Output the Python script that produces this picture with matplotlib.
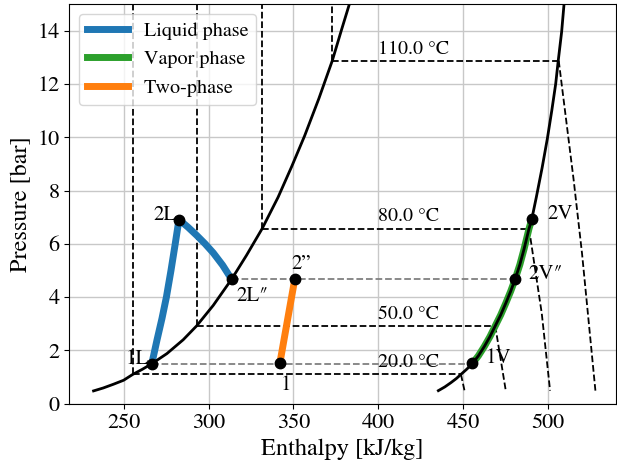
import matplotlib
matplotlib.use("Agg")
import matplotlib.pyplot as plt

plt.rcParams['font.family'] = ['STIXGeneral', 'DejaVu Serif']
plt.rcParams['mathtext.fontset'] = 'stix'

# saturation curves (h [kJ/kg], P [bar])
liq_sat_h = [232.3, 238.0, 244.0, 250.0, 255.4, 261.0, 266.6, 275.5, 285.1, 293.0, 302.8,
             308.3, 313.6, 322.4, 331.6, 341.0, 349.0, 356.6, 365.0, 372.9, 378.2, 383.0]
liq_sat_p = [0.48, 0.59, 0.73, 0.88, 1.10, 1.29, 1.50, 1.88, 2.40, 2.92, 3.69,
             4.19, 4.67, 5.57, 6.57, 7.75, 8.90, 10.05, 11.45, 12.87, 14.0, 15.0]
vap_sat_h = [435.4, 439.2, 442.8, 445.9, 448.7, 452.2, 455.5, 459.0, 462.4, 465.8, 468.9,
             472.1, 475.1, 478.0, 480.6, 483.4, 485.9, 488.8, 490.4, 493.1, 496.5, 499.6,
             502.2, 504.5, 506.0, 508.0, 509.4]
vap_sat_p = [0.49, 0.63, 0.79, 0.94, 1.10, 1.30, 1.51, 1.80, 2.14, 2.52, 2.92,
             3.33, 3.77, 4.22, 4.67, 5.22, 5.81, 6.57, 6.92, 7.75, 8.85, 9.95,
             11.0, 12.0, 12.87, 13.95, 14.98]

# isotherms
iso_T = [20.0, 50.0, 80.0, 110.0]
iso_p = [1.10, 2.92, 6.57, 12.87]
iso_h_liq = [255.4, 293.0, 331.6, 372.9]
iso_h_vap = [448.7, 468.9, 488.8, 506.0]
iso_sh_h = [[448.7, 450.8], [468.9, 475.1], [488.8, 496.3, 501.2], [506.3, 515.1, 520.0, 527.9]]
iso_sh_p = [[1.10, 0.49], [2.92, 0.49], [6.57, 3.39, 0.49], [12.87, 8.39, 5.65, 0.49]]

# process paths
liq_path_h = [266.6, 269.7, 272.6, 275.2, 277.9, 280.4, 282.6, 288.0, 293.0, 298.0, 302.8, 308.3, 313.6]
liq_path_p = [1.50, 2.40, 3.20, 4.00, 5.00, 6.00, 6.91, 6.62, 6.32, 6.00, 5.66, 5.20, 4.67]
vap_path_h = [455.5, 459.0, 462.4, 465.8, 468.9, 472.1, 475.1, 478.0, 480.6, 483.4, 485.9, 488.8, 490.4]
vap_path_p = [1.51, 1.80, 2.14, 2.52, 2.92, 3.33, 3.77, 4.22, 4.67, 5.22, 5.81, 6.57, 6.92]
two_path_h = [342.0, 350.8]
two_path_p = [1.51, 4.67]

# state points
pt_labels = ['1L', '2L', '2L\u2033', '1', '2\u201d', '1V', '2V\u2033', '2V']
pt_h = [266.6, 282.6, 313.6, 342.0, 350.8, 455.5, 480.6, 490.4]
pt_p = [1.50, 6.91, 4.67, 1.51, 4.67, 1.51, 4.67, 6.92]
pt_dx = [-1.5, -1.5, 3.0, 0.5, -2.0, 8.0, 8.0, 9.0]
pt_dy = [0.0, 0.0, -0.8, -1.0, 0.4, 0.0, 0.0, 0.0]
pt_ha = ['right', 'right', 'left', 'left', 'left', 'left', 'left', 'left']

fig = plt.figure(figsize=(6.17, 4.66), dpi=100)
ax = fig.add_axes([0.1123, 0.1337, 0.886, 0.8577])

ax.grid(True, color='#c8c8c8', lw=1.0)
ax.set_axisbelow(True)

ax.plot(liq_path_h, liq_path_p, color='tab:blue', lw=5, label='Liquid phase', zorder=3)
ax.plot(vap_path_h, vap_path_p, color='tab:green', lw=5, label='Vapor phase', zorder=3)
ax.plot(two_path_h, two_path_p, color='tab:orange', lw=5, label='Two-phase', zorder=3)

ax.plot(liq_sat_h, liq_sat_p, color='black', lw=2, zorder=4)
ax.plot(vap_sat_h, vap_sat_p, color='black', lw=2, zorder=4)

for T, p, hl, hv, shh, shp in zip(iso_T, iso_p, iso_h_liq, iso_h_vap, iso_sh_h, iso_sh_p):
    ax.plot([hl, hv], [p, p], 'k--', lw=1.3, zorder=2)
    ax.plot([hl, hl], [p, 16], 'k--', lw=1.3, zorder=2)
    ax.plot(shh, shp, 'k--', lw=1.3, zorder=2)
    ax.text(400, p + 0.27, f'{T:.1f} \u00b0C', fontsize=14.3)

# isobars
ax.plot([pt_h[0], pt_h[5]], [pt_p[0], pt_p[0]], '--', color='gray', lw=1.3, zorder=2)
ax.plot([pt_h[2], pt_h[6]], [pt_p[2], pt_p[2]], '--', color='gray', lw=1.3, zorder=2)

ax.plot(pt_h, pt_p, 'o', color='black', ms=7.5, zorder=5)

for lab, h, p, dx, dy, ha in zip(pt_labels, pt_h, pt_p, pt_dx, pt_dy, pt_ha):
    ax.text(h + dx, p + dy, lab, ha=ha, fontsize=15)

ax.set_xlim(218, 540)
ax.set_ylim(0, 15)
ax.set_xlabel('Enthalpy [kJ/kg]', fontsize=17.5)
ax.set_ylabel('Pressure [bar]', fontsize=17.5)
ax.tick_params(labelsize=16)
ax.legend(loc='upper left', fontsize=14.5, handlelength=2.0)

fig.savefig('out.png', dpi=100)
